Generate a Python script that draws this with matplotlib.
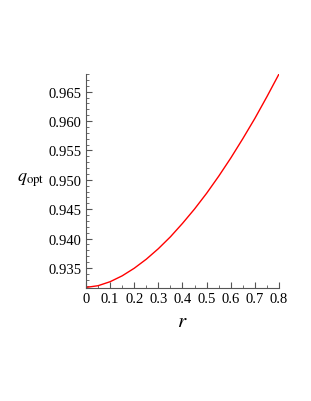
import matplotlib
matplotlib.use("Agg")
import matplotlib.pyplot as plt
from matplotlib.ticker import MultipleLocator, FormatStrFormatter

r_vals = [0.0, 0.05, 0.1, 0.15, 0.2, 0.25, 0.3, 0.35, 0.4, 0.45, 0.5,
          0.55, 0.6, 0.65, 0.7, 0.75, 0.8]
q_vals = [0.9317, 0.93199, 0.93267, 0.93367, 0.93496, 0.9365, 0.93829,
          0.94031, 0.94259, 0.94504, 0.94771, 0.95061, 0.9537, 0.957,
          0.96045, 0.96415, 0.9680]
x_ticks = [0, 0.1, 0.2, 0.3, 0.4, 0.5, 0.6, 0.7, 0.8]
x_tick_labels = ["0", "0.1", "0.2", "0.3", "0.4", "0.5", "0.6", "0.7", "0.8"]
y_ticks = [0.935, 0.940, 0.945, 0.950, 0.955, 0.960, 0.965]

plt.rcParams['font.family'] = ['Liberation Serif', 'DejaVu Serif']
plt.rcParams['mathtext.fontset'] = 'stix'

fig = plt.figure(figsize=(3.11, 4.02), dpi=100)
ax = fig.add_axes([0.2765, 0.2811, 0.6206, 0.5323])

ax.plot(r_vals, q_vals, color='#ff0000', lw=1.0)

ax.set_xlim(0, 0.8)
ax.set_ylim(0.9316, 0.9680)
ax.set_xticks(x_ticks)
ax.set_xticklabels(x_tick_labels)
ax.set_yticks(y_ticks)
ax.yaxis.set_major_formatter(FormatStrFormatter('%.3f'))
ax.xaxis.set_minor_locator(MultipleLocator(0.05))
ax.yaxis.set_minor_locator(MultipleLocator(0.001))

for s in ['top', 'right']:
    ax.spines[s].set_visible(False)
for s in ['left', 'bottom']:
    ax.spines[s].set_color('#555555')
    ax.spines[s].set_linewidth(0.8)

ax.tick_params(which='both', direction='in', colors='#555555', labelcolor='black',
               labelsize=10.5)
ax.tick_params(which='major', length=4, width=0.8, pad=3)
ax.tick_params(which='minor', length=2, width=0.6)

ax.text(-0.36, 0.51, r'$q_{\mathrm{opt}}$', transform=ax.transAxes,
        fontsize=13, ha='left', va='center')
ax.text(0.5, -0.155, r'$r$', transform=ax.transAxes,
        fontsize=15, ha='center', va='center')

fig.savefig('out.png', dpi=100)
